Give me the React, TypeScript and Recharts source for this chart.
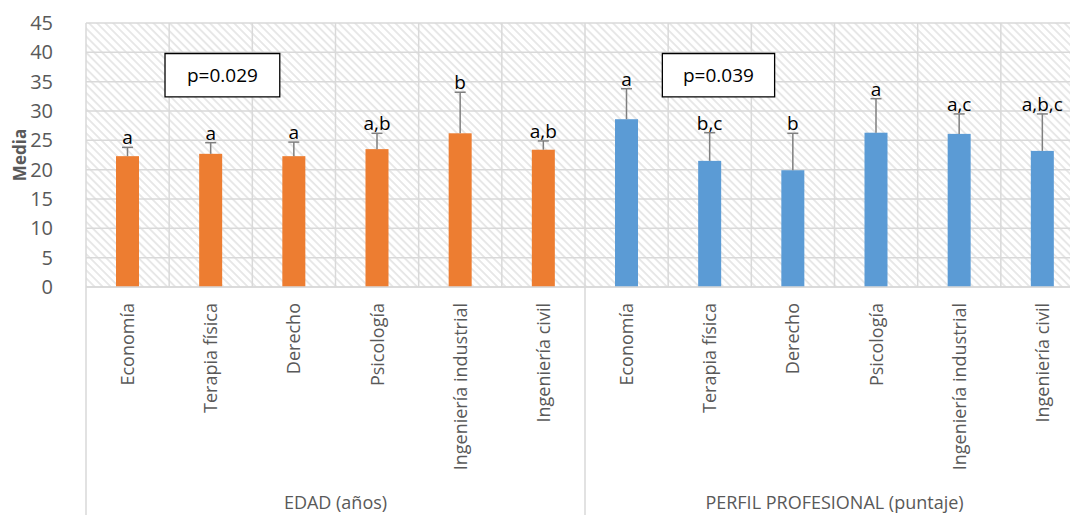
import { Bar, BarChart, CartesianGrid, Cell, LabelList, ReferenceArea, XAxis, YAxis } from "recharts";

const FONT = "'Open Sans', sans-serif";
const TEXT = "#595959";
const GRID = "#d9d9d9";
const ORANGE = "#ed7d31";
const BLUE = "#5b9bd5";
const WHISKER = "#7f7f7f";

// carreras (same in both groups)
const carreras = ["Economía", "Terapia física", "Derecho", "Psicología", "Ingeniería industrial", "Ingeniería civil"];
const grupos = ["EDAD (años)", "PERFIL PROFESIONAL (puntaje)"];

// EDAD (años)
const edadMedia = [22.3, 22.7, 22.3, 23.5, 26.2, 23.4];
const edadDE = [1.5, 1.9, 2.4, 2.7, 7.0, 1.5];
const edadLetras = ["a", "a", "a", "a,b", "b", "a,b"];

// PERFIL PROFESIONAL (puntaje)
const perfilMedia = [28.6, 21.5, 19.9, 26.3, 26.1, 23.2];
const perfilDE = [5.2, 4.8, 6.3, 5.8, 3.4, 6.3];
const perfilLetras = ["a", "b,c", "b", "a", "a,c", "a,b,c"];

const yTicks = [0, 5, 10, 15, 20, 25, 30, 35, 40, 45];

// p-value text boxes (in axis units)
const pBoxes = [
  { text: "p=0.029", x1: 0.95, x2: 2.33, y1: 32.4, y2: 39.8 },
  { text: "p=0.039", x1: 6.93, x2: 8.28, y1: 32.4, y2: 39.8 },
];

interface Row {
  carrera: string;
  grupo: string;
  media: number;
  de: number;
  letras: string;
}

const rows: Row[] = [
  ...carreras.map((c, i) => ({ carrera: c, grupo: grupos[0], media: edadMedia[i], de: edadDE[i], letras: edadLetras[i] })),
  ...carreras.map((c, i) => ({ carrera: c, grupo: grupos[1], media: perfilMedia[i], de: perfilDE[i], letras: perfilLetras[i] })),
];

const CAT_H = 170;
const GRP_H = 58;

function BarWithError(props: any) {
  const { x, y, width, height, fill, payload } = props;
  const pxPerUnit = height / payload.media;
  const top = y - payload.de * pxPerUnit;
  const cx = x + width / 2;
  return (
    <g>
      <rect x={x} y={y} width={width} height={height} fill={fill} />
      <line x1={cx} x2={cx} y1={y} y2={top} stroke={WHISKER} strokeWidth={1.5} />
      <line x1={cx - 5.5} x2={cx + 5.5} y1={top} y2={top} stroke={WHISKER} strokeWidth={1.5} />
    </g>
  );
}

function LetterLabel(props: any) {
  const { x, y, width, height, index } = props;
  const r = rows[index];
  const top = y - r.de * (height / r.media);
  return (
    <text x={x + width / 2} y={top - 3} textAnchor="middle" fill="#000" fontSize={19} fontFamily={FONT}>
      {r.letras}
    </text>
  );
}

function CategoryTick(props: any) {
  const { x, y, payload } = props;
  const ty = y + 16;
  return (
    <text
      x={x}
      y={ty}
      dy="0.36em"
      transform={`rotate(-90, ${x}, ${ty})`}
      textAnchor="end"
      fill={TEXT}
      fontSize={18}
      fontFamily={FONT}
    >
      {payload.value}
    </text>
  );
}

function GroupTick(props: any) {
  const { x, y, payload } = props;
  const v = payload.value as number;
  if (v % 6 === 0) {
    return <line x1={x} x2={x} y1={y - CAT_H} y2={y + GRP_H} stroke={GRID} strokeWidth={1.5} />;
  }
  return (
    <text x={x} y={y + 52} textAnchor="middle" fill={TEXT} fontSize={18} fontFamily={FONT}>
      {grupos[Math.floor(v / 6)]}
    </text>
  );
}

function MediaLabel(props: any) {
  const vb = props.viewBox;
  const cx = 20;
  const cy = vb.y + vb.height / 2;
  return (
    <text
      x={cx}
      y={cy}
      dy="0.36em"
      transform={`rotate(-90, ${cx}, ${cy})`}
      textAnchor="middle"
      fill={TEXT}
      fontSize={17}
      fontWeight="bold"
      fontFamily={FONT}
    >
      Media
    </text>
  );
}

export default function App() {
  return (
    <div style={{ position: "fixed", left: 0, top: 0, width: 1070, height: 515, overflow: "hidden", background: "#fff" }}>
      <BarChart width={1100} height={515} data={rows} margin={{ top: 23, right: 16, bottom: 0, left: 0 }}>
        <defs>
          <pattern id="hatch" width="5.7" height="5.7" patternUnits="userSpaceOnUse" patternTransform="rotate(-45)">
            <rect width="5.7" height="5.7" fill="#fff" />
            <line x1="1" y1="0" x2="1" y2="5.7" stroke="#e6e6e6" strokeWidth={1.8} />
          </pattern>
        </defs>
        <CartesianGrid
          fill="url(#hatch)"
          stroke={GRID}
          strokeWidth={1.5}
          verticalCoordinatesGenerator={({ offset }: any) =>
            Array.from({ length: rows.length + 1 }, (_, i) => offset.left + (i * offset.width) / rows.length)
          }
        />
        <XAxis
          xAxisId="cat"
          dataKey="carrera"
          height={CAT_H}
          interval={0}
          tickSize={0}
          tickMargin={0}
          tickLine={false}
          axisLine={{ stroke: GRID, strokeWidth: 1.5 }}
          tick={<CategoryTick />}
        />
        <XAxis
          xAxisId="grp"
          dataKey="media"
          type="number"
          domain={[0, 12]}
          allowDataOverflow
          ticks={[0, 3, 6, 9, 12]}
          interval={0}
          height={GRP_H}
          tickSize={0}
          tickMargin={0}
          tickLine={false}
          axisLine={false}
          tick={<GroupTick />}
        />
        <YAxis
          domain={[0, 45]}
          ticks={yTicks}
          interval={0}
          width={86}
          tickSize={0}
          tickMargin={33}
          tickLine={false}
          axisLine={false}
          tick={{ fill: TEXT, fontSize: 20, fontFamily: FONT }}
          label={<MediaLabel />}
        />
        {pBoxes.map((b) => (
          <ReferenceArea
            key={b.text}
            xAxisId="grp"
            x1={b.x1}
            x2={b.x2}
            y1={b.y1}
            y2={b.y2}
            fill="#fff"
            fillOpacity={1}
            stroke="#000"
            strokeWidth={1.3}
            ifOverflow="visible"
            label={{ value: b.text, position: "center", fill: "#000", fontSize: 19, fontFamily: FONT }}
          />
        ))}
        <Bar xAxisId="cat" dataKey="media" barSize={23} shape={<BarWithError />} isAnimationActive={false}>
          {rows.map((r, i) => (
            <Cell key={i} fill={r.grupo === grupos[0] ? ORANGE : BLUE} />
          ))}
          <LabelList dataKey="letras" content={<LetterLabel />} />
        </Bar>
      </BarChart>
    </div>
  );
}
